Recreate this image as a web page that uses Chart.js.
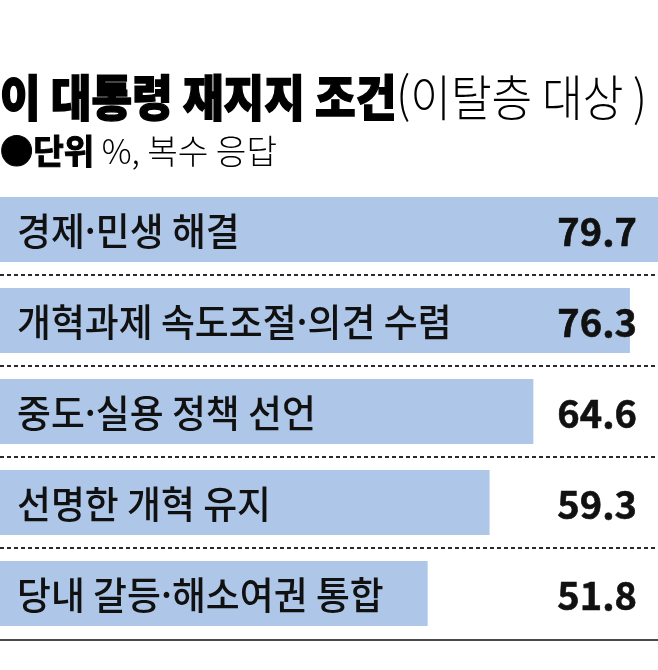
<!DOCTYPE html>
<html lang="ko">
<head>
<meta charset="utf-8">
<script src="https://cdn.jsdelivr.net/npm/chart.js@4/dist/chart.umd.min.js"></script>
<style>
    html, body { margin: 0; padding: 0; background: #fff; }
    #chart { display: block; }
</style>
</head>
<body>
<canvas id="chart" width="658" height="670"></canvas>
<script>
const titleBold = '이 대통령 재지지 조건';
const titleLight = '(이탈층 대상 )';
const unitBold = '●단위';
const unitLight = ' %, 복수 응답';

const categories = [
    '경제·민생 해결',
    '개혁과제 속도조절·의견 수렴',
    '중도·실용 정책 선언',
    '선명한 개혁 유지',
    '당내 갈등·해소여권 통합',
];
const values = [79.7, 76.3, 64.6, 59.3, 51.8];
const xMax = 79.7;

const FONT = '"Noto Sans CJK KR", "Noto Sans", sans-serif';

// header, labels, values and separators
const decorPlugin = {
    id: 'decor',
    afterDatasetsDraw(chart) {
        const ctx = chart.ctx;
        const yScale = chart.scales.y;
        const area = chart.chartArea;
        const meta = chart.getDatasetMeta(0);

        ctx.save();

        // dashed separators
        ctx.strokeStyle = '#2a2a2a';
        ctx.lineWidth = 2;
        ctx.setLineDash([4, 3]);
        for (let i = 0; i < categories.length - 1; i++) {
            const y = Math.round((yScale.getPixelForValue(i) + yScale.getPixelForValue(i + 1)) / 2);
            ctx.beginPath();
            ctx.moveTo(area.left, y);
            ctx.lineTo(area.right, y);
            ctx.stroke();
        }
        ctx.setLineDash([]);
        ctx.strokeStyle = '#4a4a4a';
        ctx.lineWidth = 2;
        ctx.beginPath();
        ctx.moveTo(area.left, area.bottom + 1);
        ctx.lineTo(area.right, area.bottom + 1);
        ctx.stroke();

        // labels inside bars
        ctx.textBaseline = 'middle';
        ctx.fillStyle = '#111';
        ctx.strokeStyle = '#111';
        for (let i = 0; i < categories.length; i++) {
            const y = meta.data[i].y;
            ctx.textAlign = 'left';
            ctx.font = '500 38px ' + FONT;
            drawCondensed(ctx, categories[i], 17, y + 1, 0.97, 0);

            ctx.textAlign = 'right';
            ctx.font = '700 38px ' + FONT;
            drawCondensed(ctx, values[i].toFixed(1), 637, y + 2, 1, 0.6);
        }

        // title
        ctx.fillStyle = '#000';
        ctx.strokeStyle = '#000';
        ctx.textAlign = 'left';
        ctx.textBaseline = 'alphabetic';
        ctx.font = '900 49px ' + FONT;
        const wBold = ctx.measureText(titleBold).width;
        ctx.font = '300 49px ' + FONT;
        const wLight = ctx.measureText(titleLight).width;
        const sx = 647 / (wBold + wLight);
        ctx.save();
        ctx.scale(sx, 1);
        ctx.font = '900 49px ' + FONT;
        ctx.lineWidth = 1.4;
        ctx.fillText(titleBold, 0, 116);
        ctx.strokeText(titleBold, 0, 116);
        ctx.font = '300 49px ' + FONT;
        ctx.fillText(titleLight, wBold, 116);
        ctx.restore();

        // unit line
        ctx.font = '700 34px ' + FONT;
        const wUnit = ctx.measureText(unitBold).width;
        ctx.font = '300 34px ' + FONT;
        const wUnit2 = ctx.measureText(unitLight).width;
        const su = 277 / (wUnit + wUnit2);
        ctx.save();
        ctx.scale(su, 1);
        ctx.font = '700 34px ' + FONT;
        ctx.lineWidth = 1;
        ctx.fillText(unitBold, 0, 164);
        ctx.strokeText(unitBold, 0, 164);
        ctx.font = '300 34px ' + FONT;
        ctx.fillText(unitLight, wUnit, 164);
        ctx.restore();

        ctx.restore();
    }
};

function drawCondensed(ctx, text, x, y, k, stroke) {
    ctx.save();
    ctx.translate(x, y);
    ctx.scale(k, 1);
    ctx.fillText(text, 0, 0);
    if (stroke) {
        ctx.lineWidth = stroke;
        ctx.strokeText(text, 0, 0);
    }
    ctx.restore();
}

new Chart(document.getElementById('chart'), {
    type: 'bar',
    data: {
        labels: categories,
        datasets: [{
            data: values,
            backgroundColor: '#aec7e8',
            borderWidth: 0,
            barPercentage: 0.714,
            categoryPercentage: 1,
        }]
    },
    options: {
        indexAxis: 'y',
        responsive: false,
        animation: false,
        layout: {
            padding: { top: 184, bottom: 31, left: 0, right: 0 }
        },
        scales: {
            x: { display: false, min: 0, max: xMax },
            y: { display: false },
        },
        plugins: {
            legend: { display: false },
            tooltip: { enabled: false },
        },
    },
    plugins: [decorPlugin],
});
</script>
</body>
</html>
